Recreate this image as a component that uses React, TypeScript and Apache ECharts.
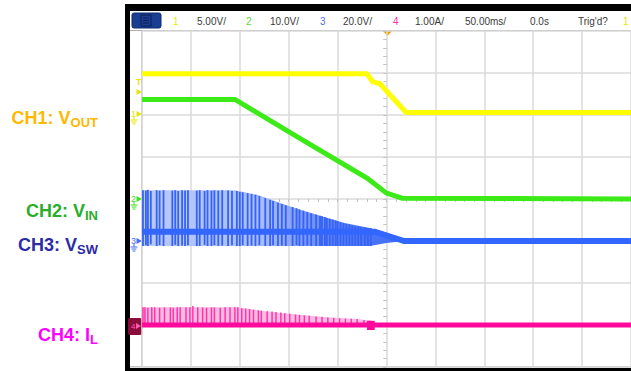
import React, { useEffect, useRef } from "react";
import * as echarts from "echarts";

// Scope readout across the top
const channelNumbers = ["1", "2", "3", "4"];
const channelScales = ["5.00V/", "10.0V/", "20.0V/", "1.00A/"];
const timebase = "50.00ms/";
const timeDelay = "0.0s";
const triggerStatus = "Trig'd?";

// Trace captions on the left
const labelMain = ["CH1: V", "CH2: V", "CH3: V", "CH4: I"];
const labelSub = ["OUT", "IN", "SW", "L"];

// Time in ms (0 = trigger), amplitude in screen divisions
const ch1Vout = [[-250, 2.98], [-20, 2.98], [-14, 2.79], [-7, 2.75], [20, 2.06], [250, 2.06]];
const ch2Vin = [[-250, 2.37], [-155, 2.37], [-89, 1.45], [-20, 0.5], [0, 0.14], [16, 0.02], [250, 0.0]];
const ch3Base = [[-250, -0.78], [-12, -0.78], [18, -1.0], [250, -1.0]];
const ch3EnvTop = [[-250, 0.21], [-155, 0.21], [-132, 0.1], [-97, -0.19], [-68, -0.4], [-43, -0.57], [-17, -0.69], [0, -0.81], [18, -0.95]];
const ch3EnvBottom = [[-250, -1.12], [-17, -1.12], [0, -1.05], [18, -1.0]];
// switching spikes: [t, low, high]
const ch3Spikes = [
  [-249, -1.12, 0.21], [-246, -1.1, 0.2], [-244, -1.12, 0.22], [-241, -1.08, 0.19], [-235, -1.12, 0.21],
  [-232, -1.1, 0.2], [-228, -1.12, 0.21], [-219, -1.12, 0.2], [-216, -1.09, 0.21], [-213, -1.12, 0.19],
  [-209, -1.11, 0.21], [-206, -1.12, 0.2], [-203, -1.1, 0.21], [-194, -1.12, 0.2], [-191, -1.12, 0.21],
  [-186, -1.09, 0.19], [-183, -1.12, 0.21], [-179, -1.12, 0.2], [-176, -1.1, 0.21], [-172, -1.12, 0.2],
  [-168, -1.11, 0.21], [-162, -1.12, 0.2], [-158, -1.1, 0.19], [-153, -1.12, 0.19], [-150, -1.12, 0.17],
  [-147, -1.1, 0.16], [-142, -1.12, 0.14], [-138, -1.11, 0.12], [-134, -1.12, 0.1], [-130, -1.1, 0.07],
  [-124, -1.12, 0.02], [-119, -1.12, -0.02], [-116, -1.1, -0.05], [-111, -1.12, -0.09], [-107, -1.11, -0.12],
  [-103, -1.12, -0.15], [-96, -1.12, -0.19], [-92, -1.1, -0.22], [-89, -1.12, -0.25], [-85, -1.12, -0.28],
  [-81, -1.11, -0.31], [-77, -1.12, -0.34], [-72, -1.12, -0.37], [-68, -1.12, -0.4], [-66, -1.12, -0.41],
  [-63, -1.12, -0.43], [-61, -1.12, -0.45], [-58, -1.12, -0.47], [-55, -1.12, -0.49], [-52, -1.12, -0.51],
  [-50, -1.12, -0.53], [-47, -1.12, -0.55], [-44, -1.12, -0.57], [-41, -1.12, -0.59], [-38, -1.12, -0.61],
  [-35, -1.12, -0.63], [-32, -1.12, -0.65], [-29, -1.12, -0.66], [-26, -1.12, -0.67], [-22, -1.12, -0.68],
  [-19, -1.12, -0.69], [-16, -1.12, -0.7],
];
const ch4Base = [[-250, -3.0], [250, -3.0]];
const ch4EnvTop = [[-250, -2.58], [-152, -2.58], [-124, -2.67], [-97, -2.74], [-63, -2.81], [-30, -2.86], [-15, -2.9]];
const ch4EnvBottom = [[-250, -3.0], [-15, -3.0]];
const ch4Spikes = [
  [-249, -3, -2.58], [-247, -3, -2.58], [-244, -3, -2.59], [-240, -3, -2.58], [-237, -3, -2.58],
  [-232, -3, -2.59], [-227, -3, -2.58], [-221, -3, -2.58], [-218, -3, -2.59], [-214, -3, -2.58],
  [-211, -3, -2.58], [-205, -3, -2.58], [-201, -3, -2.58], [-198, -3, -2.55], [-193, -3, -2.58],
  [-188, -3, -2.58], [-184, -3, -2.59], [-179, -3, -2.58], [-176, -3, -2.58], [-170, -3, -2.59],
  [-165, -3, -2.58], [-160, -3, -2.58], [-155, -3, -2.58], [-152, -3, -2.58], [-148, -3, -2.6],
  [-144, -3, -2.61], [-140, -3, -2.62], [-136, -3, -2.64], [-131, -3, -2.65], [-128, -3, -2.66],
  [-122, -3, -2.67], [-117, -3, -2.68], [-113, -3, -2.69], [-108, -3, -2.7], [-104, -3, -2.72],
  [-99, -3, -2.73], [-93, -3, -2.75], [-89, -3, -2.76], [-84, -3, -2.77], [-79, -3, -2.78],
  [-72, -3, -2.8], [-66, -3, -2.81], [-60, -3, -2.82], [-54, -3, -2.83], [-48, -3, -2.84],
  [-42, -3, -2.85], [-36, -3, -2.85], [-30, -3, -2.86], [-23, -3, -2.88], [-17, -3, -2.9],
];
// short current glitch near the trigger: [t0, t1, v0, v1]
const ch4Glitch = [[-20, -12, -2.9, -3.12]];

const traceColors = ["#ffff00", "#3bea16", "#3366ff", "#ff0a9c"];
const labelColors = ["#ffb800", "#2aad2a", "#2b2ba6", "#ff00ff"];
const headerColors = ["#e8e800", "#55dd33", "#4d6fee", "#ff2aa8"];

const envelope = (top: number[][], bottom: number[][], fill: any) => (_p: any, api: any) => ({
  type: "polygon",
  shape: {
    points: top.map((d) => api.coord(d)).concat(bottom.slice().reverse().map((d) => api.coord(d))),
  },
  style: { fill },
});

const spikes = (stroke: string, lineWidth: number) => (_p: any, api: any) => {
  const a = api.coord([api.value(0), api.value(1)]);
  const b = api.coord([api.value(0), api.value(2)]);
  return { type: "line", shape: { x1: a[0], y1: a[1], x2: b[0], y2: b[1] }, style: { stroke: stroke, lineWidth } };
};

const glitch = (fill: string) => (_p: any, api: any) => {
  const a = api.coord([api.value(0), api.value(2)]);
  const b = api.coord([api.value(1), api.value(3)]);
  return { type: "rect", shape: { x: a[0], y: a[1], width: b[0] - a[0], height: b[1] - a[1] }, style: { fill } };
};

const gridGray = "#dadada";
const tickGray = "#c2c2c2";

function centerAxis(inside: boolean, split: boolean, extra: any) {
  return {
    type: "value",
    ...extra,
    axisLabel: { show: false },
    axisLine: { show: true, onZero: true, lineStyle: { color: "rgba(0,0,0,0)" } },
    axisTick: { show: true, inside, length: 3, lineStyle: { color: tickGray } },
    minorTick: { show: true, splitNumber: 5, length: 3, lineStyle: { color: tickGray } },
    splitLine: { show: split, lineStyle: { color: gridGray, width: 1.5 } },
  };
}

function buildGraphics() {
  const font = "Liberation Sans";
  const g: any[] = [];
  // outer frame
  g.push({ type: "rect", shape: { x: 125, y: 4, width: 506, height: 7 }, style: { fill: "#000" } });
  g.push({ type: "rect", shape: { x: 125, y: 4, width: 5, height: 367 }, style: { fill: "#000" } });
  g.push({ type: "rect", shape: { x: 125, y: 368, width: 506, height: 3 }, style: { fill: "#000" } });
  g.push({ type: "rect", shape: { x: 130, y: 30, width: 501, height: 1 }, style: { fill: "#b0b0b0" } });
  g.push({ type: "rect", shape: { x: 141, y: 31, width: 1.5, height: 336 }, style: { fill: "#c4c4c4" } });
  g.push({ type: "rect", shape: { x: 130, y: 366, width: 501, height: 1.5 }, style: { fill: "#c4c4c4" } });
  // menu key
  g.push({ type: "rect", shape: { x: 132, y: 13, width: 29, height: 15, r: 2 }, style: { fill: "#1a3f92", stroke: "#0e2a6a" } });
  g.push({ type: "rect", shape: { x: 141, y: 15, width: 10, height: 11 }, style: { fill: "none", stroke: "#0b1f52", lineWidth: 1 } });
  [18, 20.5, 23].forEach((y) =>
    g.push({ type: "line", shape: { x1: 143, y1: y, x2: 149, y2: y }, style: { stroke: "#0b1f52", lineWidth: 1 } })
  );
  // readout
  const numX = [173, 246, 320, 393];
  const scaleX = [197, 270, 343, 415];
  channelNumbers.forEach((n, i) => {
    g.push({ type: "text", x: numX[i], y: 21, style: { text: n, fill: headerColors[i], font: `10px ${font}`, verticalAlign: "middle" } });
    g.push({ type: "text", x: scaleX[i], y: 21, style: { text: channelScales[i], fill: "#3a3a3a", font: `10px ${font}`, verticalAlign: "middle" } });
  });
  g.push({ type: "text", x: 465, y: 21, style: { text: timebase, fill: "#3a3a3a", font: `10px ${font}`, verticalAlign: "middle" } });
  g.push({ type: "text", x: 530, y: 21, style: { text: timeDelay, fill: "#3a3a3a", font: `10px ${font}`, verticalAlign: "middle" } });
  g.push({ type: "text", x: 578, y: 21, style: { text: triggerStatus, fill: "#3a3a3a", font: `10px ${font}`, verticalAlign: "middle" } });
  g.push({ type: "text", x: 623, y: 21, style: { text: channelNumbers[0], fill: headerColors[0], font: `10px ${font}`, verticalAlign: "middle" } });
  // trigger position
  g.push({ type: "polygon", shape: { points: [[383, 31], [392, 31], [387.5, 36]] }, style: { fill: "#ff9a00" } });

  // channel ground markers in the left gutter
  const marker = (label: string, y: number, color: string, ground: boolean) => {
    g.push({ type: "text", x: 131, y, style: { text: label, fill: color, font: `9px ${font}`, verticalAlign: "middle" } });
    g.push({ type: "polygon", shape: { points: [[136.5, y - 3], [142, y], [136.5, y + 3]] }, style: { fill: color } });
    if (ground) {
      g.push({ type: "line", shape: { x1: 134, y1: y + 3, x2: 134, y2: y + 6 }, style: { stroke: color, lineWidth: 1 } });
      g.push({ type: "line", shape: { x1: 130.5, y1: y + 6, x2: 137.5, y2: y + 6 }, style: { stroke: color, lineWidth: 1 } });
      g.push({ type: "line", shape: { x1: 131.5, y1: y + 8, x2: 136.5, y2: y + 8 }, style: { stroke: color, lineWidth: 1 } });
      g.push({ type: "line", shape: { x1: 132.5, y1: y + 10, x2: 135.5, y2: y + 10 }, style: { stroke: color, lineWidth: 1 } });
    }
  };
  g.push({ type: "text", x: 136, y: 82, style: { text: "T", fill: "#e6e600", font: `bold 9px ${font}`, verticalAlign: "middle" } });
  g.push({ type: "polygon", shape: { points: [[136.5, 89], [142, 92], [136.5, 95]] }, style: { fill: "#e6e600" } });
  marker("1", 114, "#e6e600", true);
  marker("2", 199, "#44dd22", true);
  marker("3", 241, "#4a6cf0", true);
  g.push({ type: "rect", shape: { x: 128, y: 318, width: 14, height: 17, r: 2 }, style: { fill: "#8c0c3c" } });
  g.push({ type: "text", x: 131, y: 326, style: { text: "4", fill: "#ff5ab8", font: `8px ${font}`, verticalAlign: "middle" } });
  g.push({ type: "polygon", shape: { points: [[136, 323], [141, 326], [136, 329]] }, style: { fill: "#ff5ab8" } });

  // trace captions
  const labelY = [118, 211, 245, 335];
  labelMain.forEach((m, i) => {
    g.push({
      type: "text",
      x: 98,
      y: labelY[i],
      style: {
        text: `{m|${m}}{s|${labelSub[i]}}`,
        align: "right",
        verticalAlign: "middle",
        fill: labelColors[i],
        rich: {
          m: { font: `bold 18px ${font}`, fill: labelColors[i], lineHeight: 22, verticalAlign: "middle" },
          s: { font: `bold 13px ${font}`, fill: labelColors[i], lineHeight: 13, verticalAlign: "bottom" },
        },
      },
    });
  });
  return g;
}

export default function App() {
  const ref = useRef<HTMLDivElement>(null);
  useEffect(() => {
    if (!ref.current) return;
    const chart = echarts.init(ref.current, undefined, { renderer: "svg" });
    const line = (data: number[][], color: string, width: number) => ({
      type: "line",
      data,
      symbol: "none",
      lineStyle: { color, width, cap: "butt", join: "miter" },
      z: 5,
    });
    chart.setOption({
      animation: false,
      backgroundColor: "#ffffff",
      grid: { left: 142, top: 31, width: 490, height: 336 },
      xAxis: [
        centerAxis(false, true, { min: -250, max: 250, interval: 50 }),
        centerAxis(true, false, { min: -250, max: 250, interval: 50, position: "top" }),
      ],
      yAxis: [
        centerAxis(false, true, { min: -4, max: 4, interval: 1 }),
        centerAxis(true, false, { min: -4, max: 4, interval: 1, position: "right" }),
      ],
      series: [
        {
          type: "custom",
          data: [[0, 0]],
          renderItem: envelope(ch3EnvTop, ch3EnvBottom, {
            type: "linear", x: 0, y: 0, x2: 1, y2: 0,
            colorStops: [
              { offset: 0, color: "#b9cafb" },
              { offset: 0.45, color: "#a9bdfa" },
              { offset: 0.68, color: "#6d8ff7" },
              { offset: 0.85, color: "#4a76f6" },
              { offset: 1, color: "#3f6cf5" },
            ],
          }),
          z: 2,
        },
        { type: "custom", data: ch3Spikes, encode: { x: 0, y: [1, 2] }, renderItem: spikes("#3663f4", 1.8), z: 3 },
        line(ch3Base, traceColors[2], 6),
        {
          type: "custom",
          data: [[0, 0]],
          renderItem: envelope(ch4EnvTop, ch4EnvBottom, "#ffbce3"),
          z: 2,
        },
        { type: "custom", data: ch4Spikes, encode: { x: 0, y: [1, 2] }, renderItem: spikes("#ff34ab", 1.5), z: 3 },
        line(ch4Base, traceColors[3], 5),
        { type: "custom", data: ch4Glitch, encode: { x: [0, 1], y: [2, 3] }, renderItem: glitch(traceColors[3]), z: 6 },
        line(ch2Vin, traceColors[1], 5),
        line(ch1Vout, traceColors[0], 5),
      ],
      graphic: buildGraphics(),
    });
    return () => chart.dispose();
  }, []);
  return <div ref={ref} style={{ position: "absolute", left: 0, top: 0, width: 631, height: 371 }} />;
}
